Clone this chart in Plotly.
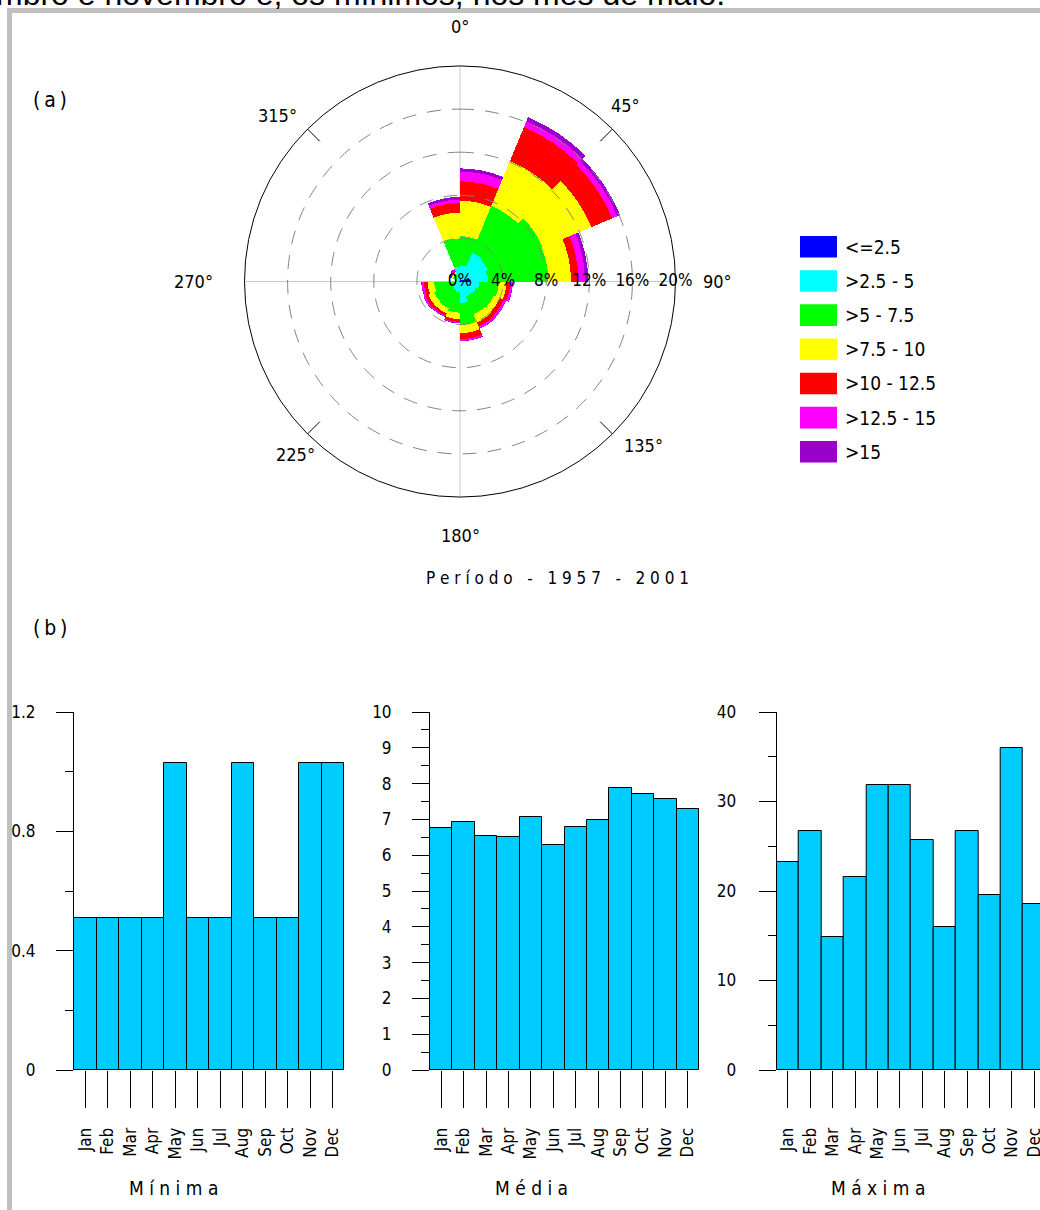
import numpy as np
import plotly.graph_objects as go

W, H = 1040, 1210

# ---------------- wind rose data (% frequency per sector and speed class) ----------------
directions = [11.25, 33.75, 56.25, 78.75, 101.25, 123.75, 146.25, 168.75,
              191.25, 213.75, 236.25, 258.75, 281.25, 303.75, 326.25, 348.75]
speed_classes = ["<=2.5", ">2.5 - 5", ">5 - 7.5", ">7.5 - 10", ">10 - 12.5", ">12.5 - 15", ">15"]
class_colors = ["#0000FF", "#00FFFF", "#00FF00", "#FFFF00", "#FF0000", "#FF00FF", "#9900CC"]

freq_le2_5 = [0.2, 0.2, 0.2, 0.9, 0.2, 0.1, 0.1, 0.1, 0.1, 0.1, 0.1, 0.1, 0.05, 0.05, 0.05, 0.1]
freq_2_5_5 = [1.3, 2.7, 2.6, 1.7, 1.6, 1.5, 1.4, 1.9, 0.9, 0.8, 0.7, 0.5, 0.25, 0.35, 0.45, 1.3]
freq_5_7_5 = [2.7, 4.7, 5.5, 5.6, 1.8, 1.8, 1.8, 2.05, 1.9, 1.8, 1.8, 1.8, 0.05, 0.3, 0.3, 2.6]
freq_7_5_10 = [3.3, 4.5, 4.9, 2.1, 0.7, 0.6, 0.8, 0.75, 0.6, 0.5, 0.6, 0.6, 0.05, 0.15, 0.15, 2.4]
freq_10_12_5 = [1.8, 3.4, 2.1, 0.7, 0.35, 0.4, 0.4, 0.55, 0.25, 0.25, 0.3, 0.35, 0.05, 0.1, 0.1, 0.9]
freq_12_5_15 = [0.9, 0.6, 0.5, 0.6, 0.2, 0.2, 0.2, 0.15, 0.1, 0.1, 0.15, 0.2, 0.05, 0.1, 0.1, 0.3]
freq_gt15 = [0.3, 0.4, 0.3, 0.3, 0.05, 0.05, 0.05, 0.05, 0.05, 0.05, 0.05, 0.05, 0.0, 0.1, 0.1, 0.25]
class_freqs = [freq_le2_5, freq_2_5_5, freq_5_7_5, freq_7_5_10, freq_10_12_5, freq_12_5_15, freq_gt15]

radial_ticks = [0, 4, 8, 12, 16, 20]
radial_ticktext = ["0%", "4%", "8%", "12%", "16%", "20%"]
angle_labels = ["0°", "45°", "90°", "135°", "180°", "225°", "270°", "315°"]

# ---------------- monthly bar data ----------------
months = ["Jan", "Feb", "Mar", "Apr", "May", "Jun", "Jul", "Aug", "Sep", "Oct", "Nov", "Dec"]
minima = [0.51, 0.51, 0.51, 0.51, 1.03, 0.51, 0.51, 1.03, 0.51, 0.51, 1.03, 1.03]
media = [6.76, 6.93, 6.55, 6.52, 7.07, 6.29, 6.79, 6.97, 7.87, 7.70, 7.57, 7.30]
maxima = [23.2, 26.7, 14.9, 21.6, 31.9, 31.9, 25.7, 16.0, 26.7, 19.5, 36.0, 18.5]

FONT = "DejaVu Sans Condensed, DejaVu Sans, sans-serif"
NB = "\u00a0"


def spaced(s, sep=NB):
    return sep.join(NB if c == " " else c for c in s)


def px(x):
    return x / W


def py(y):
    return 1 - y / H


fig = go.Figure()

# wind rose bars
for name, col, vals in zip(speed_classes, class_colors, class_freqs):
    fig.add_trace(go.Barpolar(theta=directions, r=vals, width=22.5, name=name,
                              marker=dict(color=col, line=dict(width=0)),
                              showlegend=False, subplot="polar"))

# dashed range rings drawn over the bars
ring_theta = np.linspace(0, 360, 361)
for rv in radial_ticks[1:-1]:
    fig.add_trace(go.Scatterpolar(theta=ring_theta, r=[rv] * len(ring_theta), mode="lines",
                                  line=dict(color="#808080", width=1, dash="14px,11px"),
                                  hoverinfo="skip", showlegend=False, subplot="polar"))

# inner tick marks at the diagonals
tk_t, tk_r = [], []
for a in [45, 135, 225, 315]:
    tk_t += [a, a, None]
    tk_r += [18.4, 20, None]
fig.add_trace(go.Scatterpolar(theta=tk_t, r=tk_r, mode="lines", line=dict(color="black", width=1),
                              hoverinfo="skip", showlegend=False, subplot="polar", connectgaps=False))

# radial labels along the 90° line
fig.add_trace(go.Scatterpolar(theta=[90] * len(radial_ticks), r=radial_ticks, mode="text",
                              text=radial_ticktext, textposition="middle center",
                              textfont=dict(family=FONT, size=17, color="black"),
                              cliponaxis=False, hoverinfo="skip", showlegend=False, subplot="polar"))

# monthly bars
bar_style = dict(marker=dict(color="#00CCFF", line=dict(color="black", width=1)), width=1,
                 showlegend=False)
fig.add_trace(go.Bar(x=months, y=minima, xaxis="x", yaxis="y", **bar_style))
fig.add_trace(go.Bar(x=months, y=media, xaxis="x2", yaxis="y2", **bar_style))
fig.add_trace(go.Bar(x=months, y=maxima, xaxis="x3", yaxis="y3", **bar_style))

ybot, ytop = 1070, 712


def xax(x0, x1, rng, anchor):
    return dict(domain=[px(x0), px(x1)], range=rng, type="category", anchor=anchor,
                showline=False, showgrid=False, zeroline=False, automargin=False,
                tickmode="linear", tick0=0, dtick=1,
                ticks="outside", ticklen=37, tickwidth=1, tickcolor="black",
                tickangle=-90, ticklabelstandoff=13,
                tickfont=dict(family=FONT, size=17, color="black"), fixedrange=True)


def yax(anchor, rng, dtick, minor, standoff):
    return dict(domain=[py(ybot), py(ytop)], range=rng, anchor=anchor, showline=True,
                linecolor="black", linewidth=1, showgrid=False, zeroline=False, automargin=False,
                ticks="outside", ticklen=17, tickwidth=1, tickcolor="black",
                tickmode="linear", tick0=0, dtick=dtick, ticklabelstandoff=standoff,
                minor=dict(dtick=minor, tick0=0, ticklen=8, ticks="outside", tickcolor="black",
                           tickwidth=1, showgrid=False),
                tickfont=dict(family=FONT, size=17, color="black"), fixedrange=True)


annotations = []
shapes = []


def add_text(text, x, y, size, xanchor="center", yanchor="middle", family=FONT):
    annotations.append(dict(text=text, x=px(x), y=py(y), xref="paper", yref="paper",
                            xanchor=xanchor, yanchor=yanchor, showarrow=False,
                            font=dict(family=family, size=size, color="black")))


# cut-off text line at the very top of the page
add_text("mbro e novembro e, os mínimos, nos mês de maio.", -6, -6, 32, xanchor="left",
         family="Liberation Sans, Arial, sans-serif")

# angular labels
angle_pos = [(460, 27), (625, 105), (717, 281), (643, 446), (460, 535), (295, 455), (193, 281), (277, 115)]
for lab, (ax_, ay_) in zip(angle_labels, angle_pos):
    add_text(lab, ax_, ay_, 18)

# panel letters and captions
add_text(spaced("(a)", "\u2009"), 50, 100, 21)
add_text(spaced("(b)", "\u2009"), 50, 628, 21)
add_text(spaced("Período - 1957 - 2001"), 557, 578, 17)
for t, cx in [("Mínima", 173), ("Média", 531), ("Máxima", 878)]:
    add_text(spaced(t), cx, 1188, 19)

# legend (boxes + labels)
for i, (name, col) in enumerate(zip(speed_classes, class_colors)):
    yc = 246.8 + i * 34.17
    shapes.append(dict(type="rect", xref="paper", yref="paper", x0=px(800), x1=px(837),
                       y0=py(yc + 10.8), y1=py(yc - 10.8), fillcolor=col, line=dict(width=0)))
    add_text(name, 843, yc, 19, xanchor="left")

# grey page frame
shapes.append(dict(type="rect", xref="paper", yref="paper", x0=px(7), x1=px(12), y0=py(H + 5), y1=py(8),
                   fillcolor="#C0C0C0", line=dict(width=0), layer="below"))
shapes.append(dict(type="rect", xref="paper", yref="paper", x0=px(7), x1=px(W + 5), y0=py(13), y1=py(8),
                   fillcolor="#C0C0C0", line=dict(width=0), layer="below"))

fig.update_layout(
    width=W, height=H, margin=dict(l=0, r=0, t=0, b=0, pad=0, autoexpand=False),
    paper_bgcolor="white", plot_bgcolor="white", bargap=0, showlegend=False,
    font=dict(family=FONT, color="black"),
    polar=dict(
        domain=dict(x=[px(244.5), px(675.5)], y=[py(497), py(66)]),
        bgcolor="white", barmode="stack", bargap=0,
        radialaxis=dict(range=[0, 20], showgrid=False, showline=False, showticklabels=False,
                        ticks=""),
        angularaxis=dict(direction="clockwise", rotation=90, tickvals=[0, 90, 180, 270],
                         showticklabels=False, ticks="", showgrid=True, gridcolor="#C8C8C8",
                         gridwidth=1, showline=True, linecolor="black", linewidth=1),
    ),
    xaxis=xax(74, 344, [-0.5, 11.5], "y"),
    xaxis2=xax(430, 699, [-0.5, 11.5], "y2"),
    xaxis3=xax(776.7, 1040, [-0.5, 11.255], "y3"),
    yaxis=yax("x", [0, 1.2], 0.4, 0.2, 17),
    yaxis2=yax("x2", [0, 10], 1, 0.5, 17),
    yaxis3=yax("x3", [0, 40], 10, 5, 19),
    annotations=annotations, shapes=shapes,
)

fig.write_html("out.html", config={"displayModeBar": False},
               post_script="document.body.style.margin='0px';document.body.style.overflow='hidden';")
